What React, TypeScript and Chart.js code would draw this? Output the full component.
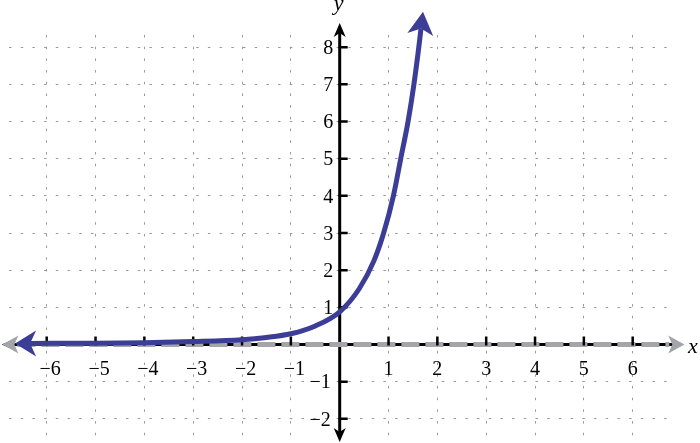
import React, { useEffect, useRef } from "react";
import { Chart, registerables } from "chart.js";

Chart.register(...registerables);

// Tick values and labels
const xTicks = [-6, -5, -4, -3, -2, -1, 0, 1, 2, 3, 4, 5, 6];
const yTicks = [-2, -1, 0, 1, 2, 3, 4, 5, 6, 7, 8];
const xLabels = ["−6", "−5", "−4", "−3", "−2", "−1", "", "1", "2", "3", "4", "5", "6"];
const yLabels = ["−2", "−1", "", "1", "2", "3", "4", "5", "6", "7", "8"];

// Exponential curve
const curveX = [-6.34, -5, -4, -3, -2, -1.5, -1, -0.5, 0, 0.4, 0.7, 0.9, 1.1, 1.25, 1.4, 1.52, 1.62, 1.665];
const curveY = [0.03, 0.035, 0.05, 0.08, 0.13, 0.19, 0.29, 0.5, 0.88, 1.5, 2.25, 3.0, 4.0, 5.0, 6.0, 7.0, 8.0, 8.5];

// Horizontal asymptote y = 0
const asymX = [-6.6, 6.75];
const asymY = [0, 0];

// Extents of the drawn axes (arrow tips)
const xAxisExtent = [-6.92, 7.05];
const yAxisExtent = [-2.62, 8.65];

const BLUE = "#3b3d97";
const GRAY = "#a3a5a8";
const SERIF = '"Liberation Serif", "Times New Roman", serif';

function arrow(ctx: CanvasRenderingContext2D, tipX: number, tipY: number, ang: number, len: number, half: number, notch: number, color: string) {
  const c = Math.cos(ang), s = Math.sin(ang);
  const bx = tipX - c * len, by = tipY - s * len;
  const nx = tipX - c * notch, ny = tipY - s * notch;
  ctx.beginPath();
  ctx.moveTo(tipX, tipY);
  ctx.lineTo(bx - s * half, by + c * half);
  ctx.lineTo(nx, ny);
  ctx.lineTo(bx + s * half, by - c * half);
  ctx.closePath();
  ctx.fillStyle = color;
  ctx.fill();
}

const axesPlugin = {
  id: "customAxes",
  beforeDatasetsDraw(chart: any) {
    const ctx: CanvasRenderingContext2D = chart.ctx;
    const xs = chart.scales.x, ys = chart.scales.y;
    const x0 = xs.getPixelForValue(0), y0 = ys.getPixelForValue(0);
    const xl = xs.getPixelForValue(xAxisExtent[0]), xr = xs.getPixelForValue(xAxisExtent[1]);
    const yt = ys.getPixelForValue(yAxisExtent[1]), yb = ys.getPixelForValue(yAxisExtent[0]);
    ctx.save();
    ctx.strokeStyle = "#000";
    ctx.lineWidth = 3;
    ctx.beginPath();
    ctx.moveTo(xl + 9, y0);
    ctx.lineTo(xr - 9, y0);
    ctx.moveTo(x0, yt + 9);
    ctx.lineTo(x0, yb - 9);
    ctx.stroke();
    arrow(ctx, xl, y0, Math.PI, 14, 6, 10, "#000");
    arrow(ctx, xr, y0, 0, 14, 6, 10, "#000");
    arrow(ctx, x0, yt, -Math.PI / 2, 14, 6, 10, "#000");
    arrow(ctx, x0, yb, Math.PI / 2, 14, 6, 10, "#000");
    ctx.restore();
  },
  afterDatasetDraw(chart: any, args: any) {
    if (args.index !== 1) return;
    const ctx: CanvasRenderingContext2D = chart.ctx;
    const pts = chart.getDatasetMeta(1).data;
    ctx.save();
    const a = pts[0], b = pts[pts.length - 1];
    arrow(ctx, a.x - 15, a.y, Math.PI, 16, 9, 12, GRAY);
    arrow(ctx, b.x + 15, b.y, 0, 16, 9, 12, GRAY);
    ctx.restore();
  },
  beforeDatasetDraw(chart: any, args: any) {
    if (args.index !== 0) return;
    const ctx: CanvasRenderingContext2D = chart.ctx;
    const xs = chart.scales.x, ys = chart.scales.y;
    const x0 = xs.getPixelForValue(0), y0 = ys.getPixelForValue(0);
    ctx.save();
    ctx.strokeStyle = "#000";
    ctx.lineWidth = 2.5;
    ctx.beginPath();
    xTicks.forEach((v) => {
      if (v === 0) return;
      const px = xs.getPixelForValue(v);
      ctx.moveTo(px, y0 - 8);
      ctx.lineTo(px, y0 + 1);
    });
    yTicks.forEach((v) => {
      if (v === 0) return;
      const py = ys.getPixelForValue(v);
      ctx.moveTo(x0 - 1, py);
      ctx.lineTo(x0 + 8, py);
    });
    ctx.stroke();
    ctx.restore();
  },
  afterDatasetsDraw(chart: any) {
    const ctx: CanvasRenderingContext2D = chart.ctx;
    const xs = chart.scales.x, ys = chart.scales.y;
    const x0 = xs.getPixelForValue(0), y0 = ys.getPixelForValue(0);
    const pts = chart.getDatasetMeta(0).data;
    ctx.save();
    // blue arrowheads
    const n = pts.length;
    const e1 = pts[n - 2], e2 = pts[n - 1];
    let ang = Math.atan2(e2.y - e1.y, e2.x - e1.x);
    arrow(ctx, e2.x + Math.cos(ang) * 17, e2.y + Math.sin(ang) * 17, ang, 23, 13, 17, BLUE);
    const s1 = pts[1], s2 = pts[0];
    ang = Math.atan2(s2.y - s1.y, s2.x - s1.x);
    arrow(ctx, s2.x + Math.cos(ang) * 15, s2.y + Math.sin(ang) * 15, ang, 21, 13, 15, BLUE);

    // tick labels
    ctx.fillStyle = "#000";
    ctx.font = `20px ${SERIF}`;
    ctx.textBaseline = "alphabetic";
    ctx.textAlign = "center";
    xTicks.forEach((v, i) => {
      const t = xLabels[i];
      if (!t) return;
      const px = xs.getPixelForValue(v) + (v < 0 ? 3.5 : 0);
      ctx.fillText(t, px, y0 + 30);
    });
    ctx.textAlign = "right";
    yTicks.forEach((v, i) => {
      const t = yLabels[i];
      if (!t) return;
      const py = ys.getPixelForValue(v);
      ctx.fillText(t, x0 + (v < 0 ? -9 : -6.5), py + 6.8);
    });
    // axis names
    ctx.font = `italic 22px ${SERIF}`;
    ctx.textAlign = "left";
    ctx.fillText("x", 688, y0 + 8.5);
    ctx.fillText("y", x0 - 6, 9.5);
    ctx.restore();
  },
};

export default function App() {
  const ref = useRef<HTMLCanvasElement | null>(null);
  useEffect(() => {
    if (!ref.current) return;
    const chart = new Chart(ref.current, {
      type: "scatter",
      data: {
        datasets: [
          {
            data: curveX.map((x, i) => ({ x, y: curveY[i] })),
            showLine: true,
            borderColor: BLUE,
            borderWidth: 5,
            pointRadius: 0,
            cubicInterpolationMode: "monotone",
            borderCapStyle: "butt",
            clip: false,
          } as any,
          {
            data: asymX.map((x, i) => ({ x, y: asymY[i] })),
            showLine: true,
            borderColor: GRAY,
            borderWidth: 5,
            borderDash: [18, 6],
            pointRadius: 0,
            borderCapStyle: "butt",
            clip: false,
          } as any,
        ],
      },
      options: {
        animation: false,
        responsive: false,
        devicePixelRatio: 1,
        layout: { padding: { left: 9, right: 32, top: 35, bottom: 2 } },
        plugins: { legend: { display: false }, tooltip: { enabled: false } },
        events: [],
        scales: {
          x: {
            type: "linear",
            min: -6.772,
            max: 6.723,
            afterBuildTicks: (s: any) => {
              s.ticks = xTicks.map((v) => ({ value: v }));
            },
            ticks: { display: false },
            grid: { color: "#9a9a9a", lineWidth: 1, drawTicks: false },
            border: { display: false, dash: [2.5, 9.2] },
          },
          y: {
            type: "linear",
            min: -2.596,
            max: 8.327,
            afterBuildTicks: (s: any) => {
              s.ticks = yTicks.map((v) => ({ value: v }));
            },
            ticks: { display: false },
            grid: { color: "#9a9a9a", lineWidth: 1, drawTicks: false },
            border: { display: false, dash: [2.5, 9.2] },
          },
        },
      } as any,
      plugins: [axesPlugin as any],
    });
    return () => chart.destroy();
  }, []);
  return (
    <div style={{ position: "fixed", left: 0, top: 0, width: 700, height: 443, background: "#fff" }}>
      <canvas ref={ref} width={700} height={443} style={{ display: "block" }} />
    </div>
  );
}
